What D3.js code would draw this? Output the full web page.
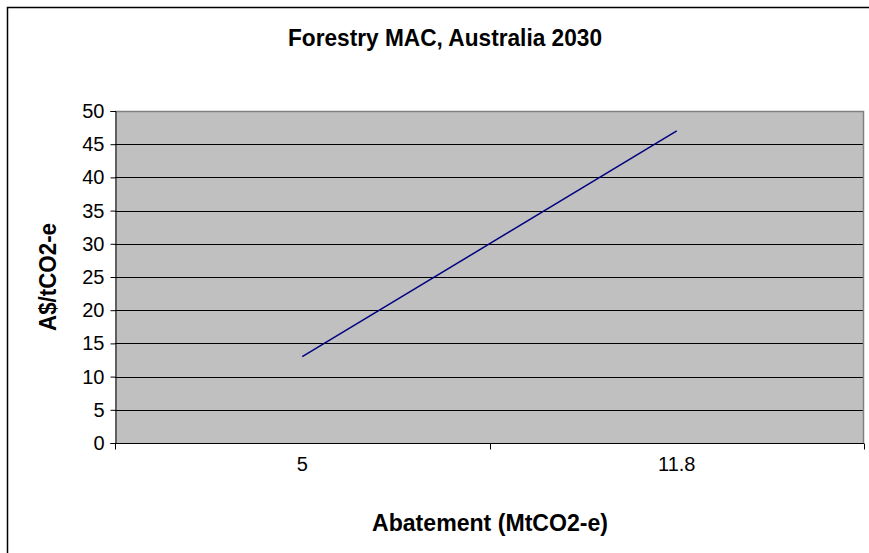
<!DOCTYPE html>
<html>
<head>
<meta charset="utf-8">
<script src="https://cdn.jsdelivr.net/npm/d3@7"></script>
<style>
  html, body { margin: 0; padding: 0; background: #fff; }
  svg { display: block; font-family: "Liberation Sans", Arial, sans-serif; }
</style>
</head>
<body>
<svg id="chart" width="869" height="553"></svg>
<script>
// Forestry marginal abatement cost, Australia 2030
const categories = ["5", "11.8"];
const costValues = [13, 47];
const yTicks = [0, 5, 10, 15, 20, 25, 30, 35, 40, 45, 50];

const svg = d3.select("#chart");
const W = 869, H = 553;
const plot = { left: 115, right: 864, top: 111, bottom: 443 };

// Outer chart frame
svg.append("rect")
  .attr("x", 7.5).attr("y", 7.5)
  .attr("width", W).attr("height", H)
  .attr("fill", "#fff").attr("stroke", "#000").attr("stroke-width", 1.5);

const x = d3.scaleBand().domain(categories).range([plot.left, plot.right]);
const y = d3.scaleLinear().domain([0, 50]).range([plot.bottom, plot.top]);

// Plot area
svg.append("rect")
  .attr("x", plot.left).attr("y", plot.top)
  .attr("width", plot.right - plot.left).attr("height", plot.bottom - plot.top)
  .attr("fill", "#c0c0c0");

// Horizontal gridlines
svg.append("g").selectAll("line")
  .data(yTicks.filter(t => t > 0 && t < 50))
  .join("line")
  .attr("x1", plot.left).attr("x2", plot.right)
  .attr("y1", d => Math.round(y(d)) + 0.5).attr("y2", d => Math.round(y(d)) + 0.5)
  .attr("stroke", "#000").attr("stroke-width", 1);

// Plot border (top and right)
svg.append("path")
  .attr("d", `M${plot.left},${plot.top + 0.5}H${plot.right - 0.5}V${plot.bottom}`)
  .attr("fill", "none").attr("stroke", "#808080").attr("stroke-width", 1.5);

// Y axis
const yAxis = svg.append("g")
  .attr("transform", `translate(${plot.left + 0.5},0)`)
  .call(d3.axisLeft(y).tickValues(yTicks).tickSize(5).tickPadding(6).tickFormat(d3.format("d")));
yAxis.select(".domain").attr("stroke", "#000");
yAxis.selectAll(".tick line").attr("stroke", "#000");
yAxis.selectAll("text").attr("font-size", 20).attr("fill", "#000")
  .attr("font-family", "Liberation Sans, Arial, sans-serif");

// X axis with ticks at category boundaries
const xAxis = svg.append("g")
  .attr("transform", `translate(0,${plot.bottom + 0.5})`);
xAxis.append("line")
  .attr("x1", plot.left).attr("x2", plot.right)
  .attr("stroke", "#000");
const boundaries = [plot.left, ...categories.map(c => x(c) + x.bandwidth())];
xAxis.selectAll("line.tk").data(boundaries).join("line")
  .attr("class", "tk")
  .attr("x1", d => Math.round(d) + 0.5).attr("x2", d => Math.round(d) + 0.5)
  .attr("y1", 0).attr("y2", 6).attr("stroke", "#000");
xAxis.selectAll("text").data(categories).join("text")
  .attr("x", d => x(d) + x.bandwidth() / 2)
  .attr("y", 27)
  .attr("text-anchor", "middle")
  .attr("font-size", 20).attr("fill", "#000")
  .text(d => d);

// Data line
const line = d3.line()
  .x((d, i) => x(categories[i]) + x.bandwidth() / 2)
  .y(d => y(d));
svg.append("path")
  .datum(costValues)
  .attr("d", line)
  .attr("fill", "none")
  .attr("stroke", "#000080")
  .attr("stroke-width", 1.5);

// Titles
svg.append("text")
  .attr("x", 445).attr("y", 46)
  .attr("text-anchor", "middle")
  .attr("font-size", 23).attr("font-weight", "bold")
  .attr("textLength", 314).attr("lengthAdjust", "spacingAndGlyphs")
  .text("Forestry MAC, Australia 2030");

svg.append("text")
  .attr("x", 490).attr("y", 531)
  .attr("text-anchor", "middle")
  .attr("font-size", 23).attr("font-weight", "bold")
  .attr("textLength", 236).attr("lengthAdjust", "spacingAndGlyphs")
  .text("Abatement (MtCO2-e)");

svg.append("text")
  .attr("transform", "translate(56,277) rotate(-90)")
  .attr("text-anchor", "middle")
  .attr("font-size", 23).attr("font-weight", "bold")
  .attr("textLength", 108).attr("lengthAdjust", "spacingAndGlyphs")
  .text("A$/tCO2-e");
</script>
</body>
</html>
